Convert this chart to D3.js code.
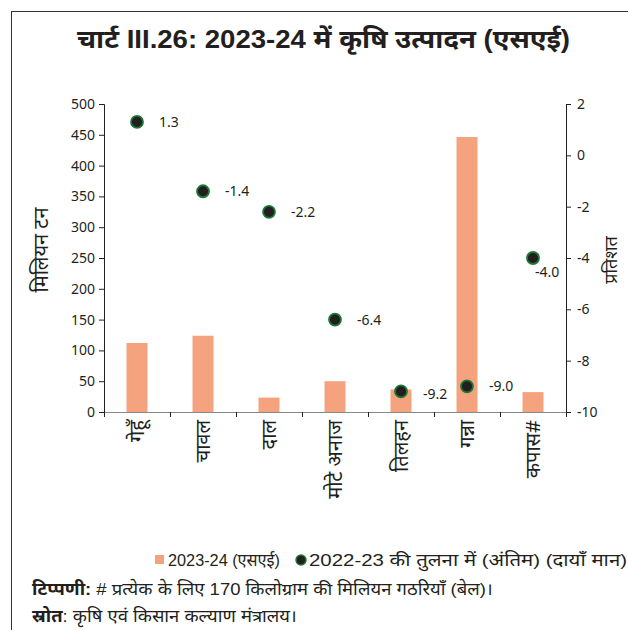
<!DOCTYPE html>
<html><head><meta charset="utf-8">
<script src="https://cdn.jsdelivr.net/npm/d3@7"></script>
<style>body{margin:0;background:#fff}svg{display:block}</style>
</head><body>
<script>
const categories = ["गेहूँ", "चावल", "दाल", "मोटे अनाज", "तिलहन", "गन्ना", "कपास#"];
const production2324 = [112.0, 123.8, 23.4, 50.0, 36.6, 446.4, 32.3];
const changeVs2223 = [1.3, -1.4, -2.2, -6.4, -9.2, -9.0, -4.0];
const leftTicks = [0, 50, 100, 150, 200, 250, 300, 350, 400, 450, 500];
const rightTicks = [2, 0, -2, -4, -6, -8, -10];

(function () {
const W = 628, H = 630;
const svg = d3.select("body").append("svg").attr("width", W).attr("height", H);
const sans = "'Liberation Sans','Noto Sans',sans-serif";
const tickFont = "'Noto Sans','DejaVu Sans',sans-serif";
const ink = "#231f20";
const fmt = v => d3.format(".1f")(v).replace("\u2212", "-");

function fit(sel, len) {
  const n = sel.node();
  const w = n.getComputedTextLength();
  if (w > 0) sel.attr("textLength", len).attr("lengthAdjust", "spacingAndGlyphs");
  return sel;
}

svg.append("rect").attr("x", 11.5).attr("y", 11.5).attr("width", 700).attr("height", 700)
  .attr("fill", "none").attr("stroke", "#333").attr("stroke-width", 1);

fit(svg.append("text").attr("x", 77).attr("y", 48)
  .attr("font-family", sans).attr("font-weight", "bold").attr("font-size", 25).attr("fill", ink)
  .text("चार्ट III.26: 2023-24 में कृषि उत्पादन (एसएई)"), 493);

const pL = 104, pR = 566, pT = 104, pB = 412;
const x = d3.scaleBand().domain(categories).range([pL, pR]);
const yL = d3.scaleLinear().domain([0, 500]).range([pB, pT]);
const yR = d3.scaleLinear().domain([-10, 2]).range([pB, pT]);

// bars
svg.append("g").selectAll("rect").data(categories).join("rect")
  .attr("x", d => x(d) + x.bandwidth() / 2 - 10.5)
  .attr("width", 21)
  .attr("y", (d, i) => yL(production2324[i]))
  .attr("height", (d, i) => pB - yL(production2324[i]))
  .attr("fill", "#f5a37f");

// left / right axes
const gl = svg.append("g").attr("transform", `translate(${pL},0)`)
  .call(d3.axisLeft(yL).tickValues(leftTicks).tickSize(5).tickPadding(4));
const gr = svg.append("g").attr("transform", `translate(${pR},0)`)
  .call(d3.axisRight(yR).tickValues(rightTicks).tickSize(5).tickPadding(6)
    .tickFormat(d => String(d)));
[gl, gr].forEach(g => {
  g.selectAll("text").attr("font-family", tickFont).attr("font-size", 14).attr("fill", ink);
  g.selectAll("line,path").attr("stroke", ink);
});

// bottom axis: line plus ticks at band boundaries
const gb = svg.append("g");
gb.append("line").attr("x1", pL).attr("x2", pR).attr("y1", pB + 0.5).attr("y2", pB + 0.5).attr("stroke", "#888");
const bounds = categories.map(d => x(d)).concat([pR]);
gb.selectAll("line.t").data(bounds).join("line").attr("class", "t")
  .attr("x1", d => Math.round(d) + 0.5).attr("x2", d => Math.round(d) + 0.5)
  .attr("y1", pB).attr("y2", pB + 5).attr("stroke", ink);
gb.selectAll("text").data(categories).join("text")
  .attr("transform", d => `translate(${x(d) + x.bandwidth() / 2 + 7},${pB + 8}) rotate(-90)`)
  .attr("text-anchor", "end").attr("font-family", tickFont).attr("font-size", 20).attr("fill", ink)
  .text(d => d);

// axis titles
svg.append("text").attr("transform", "translate(48,250) rotate(-90)").attr("text-anchor", "middle")
  .attr("font-family", tickFont).attr("font-size", 20).attr("fill", ink).text("मिलियन टन");
svg.append("text").attr("transform", "translate(617,260) rotate(-90)").attr("text-anchor", "middle")
  .attr("font-family", tickFont).attr("font-size", 18).attr("fill", ink).text("प्रतिशत");

// dots
svg.append("g").selectAll("circle").data(categories).join("circle")
  .attr("cx", d => x(d) + x.bandwidth() / 2)
  .attr("cy", (d, i) => yR(changeVs2223[i]))
  .attr("r", 6).attr("fill", ink).attr("stroke", "#1a7a34").attr("stroke-width", 1.8);

const labelOffsets = [[22, 5], [22, 5], [22, 5], [22, 5], [22, 8], [22, 5], [2, 19]];
svg.append("g").selectAll("text").data(categories).join("text")
  .attr("x", (d, i) => x(d) + x.bandwidth() / 2 + labelOffsets[i][0])
  .attr("y", (d, i) => yR(changeVs2223[i]) + labelOffsets[i][1])
  .attr("font-family", tickFont).attr("font-size", 14).attr("fill", ink)
  .text((d, i) => fmt(changeVs2223[i]));

// legend
const lg = svg.append("g").attr("font-family", sans).attr("font-size", 17).attr("fill", ink);
lg.append("rect").attr("x", 155).attr("y", 555).attr("width", 9).attr("height", 9).attr("fill", "#f5a37f");
fit(lg.append("text").attr("x", 168).attr("y", 566).text("2023-24 (एसएई)"), 112);
lg.append("circle").attr("cx", 301).attr("cy", 560).attr("r", 5).attr("fill", ink).attr("stroke", "#1a7a34").attr("stroke-width", 1.5);
fit(lg.append("text").attr("x", 309).attr("y", 566).text("2022-23 की तुलना में (अंतिम) (दायाँ मान)"), 318);

// notes
const n1 = svg.append("text").attr("x", 32).attr("y", 595).attr("font-family", sans).attr("font-size", 17).attr("fill", ink);
n1.append("tspan").attr("font-weight", "bold").text("टिप्पणी:");
n1.append("tspan").text(" # प्रत्येक के लिए 170 किलोग्राम की मिलियन गठरियाँ (बेल)।");
fit(n1, 461);
const n2 = svg.append("text").attr("x", 32).attr("y", 622).attr("font-family", sans).attr("font-size", 17).attr("fill", ink);
n2.append("tspan").attr("font-weight", "bold").text("स्रोत");
n2.append("tspan").text(": कृषि एवं किसान कल्याण मंत्रालय।");
fit(n2, 265);
})();
</script>
</body></html>
